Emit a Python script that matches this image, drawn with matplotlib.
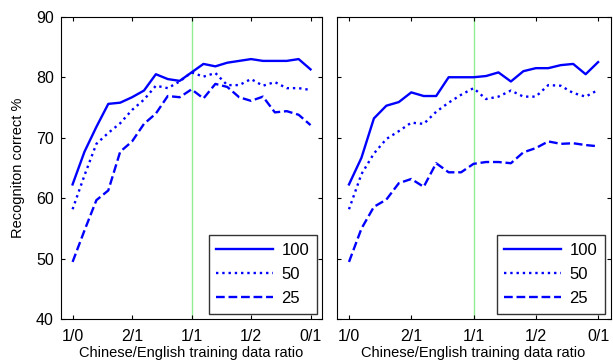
import numpy as np
import matplotlib
matplotlib.use('Agg')
import matplotlib.pyplot as plt

plt.rcParams['font.family'] = ['Liberation Sans', 'DejaVu Sans']

# ----------------------------------------------------------------------
# data
# ----------------------------------------------------------------------
x = np.arange(21) * 0.2  # 1/0 ... 0/1 in steps of 0.2
tick_pos = [0, 1, 2, 3, 4]
tick_labels = ['1/0', '2/1', '1/1', '1/2', '0/1']
series_labels = ['100', '50', '25']

left_100 = [62.3, 67.7, 71.8, 75.6, 75.8, 76.7, 77.8, 80.5, 79.7, 79.4, 80.8,
            82.2, 81.8, 82.4, 82.7, 83.0, 82.7, 82.7, 82.7, 83.0, 81.3]
left_50 = [58.2, 63.8, 69.0, 70.8, 72.4, 74.6, 76.3, 78.6, 78.2, 79.3, 80.8,
           80.1, 80.7, 78.7, 78.7, 79.7, 78.6, 79.2, 78.2, 78.2, 77.9]
left_25 = [49.5, 54.7, 59.7, 61.3, 67.7, 69.4, 72.3, 74.0, 76.9, 76.7, 78.0,
           76.5, 78.9, 78.4, 76.7, 76.1, 76.8, 74.2, 74.4, 73.8, 72.1]

right_100 = [62.3, 66.7, 73.2, 75.3, 75.9, 77.5, 76.9, 76.9, 80.0, 80.0, 80.0,
             80.2, 80.8, 79.3, 81.0, 81.5, 81.5, 82.0, 82.2, 80.5, 82.5]
right_50 = [58.2, 64.0, 67.4, 69.8, 71.1, 72.5, 72.3, 74.3, 75.8, 77.1, 78.2,
            76.4, 76.8, 77.8, 76.8, 76.8, 78.7, 78.6, 77.4, 76.8, 77.9]
right_25 = [49.5, 55.0, 58.6, 59.8, 62.5, 63.2, 61.9, 65.8, 64.3, 64.3, 65.7,
            66.0, 66.0, 65.8, 67.6, 68.3, 69.4, 69.0, 69.1, 68.8, 68.6]

styles = ['-', ':', '--']

fig = plt.figure(figsize=(6.13, 3.63), dpi=100)
ax1 = fig.add_axes([0.099, 0.120, 0.427, 0.834])
ax2 = fig.add_axes([0.549, 0.120, 0.447, 0.834])


def draw_panel(ax, ys, show_ylabel):
    ax.axvline(2, color='#90ee90', lw=1.0, zorder=1)
    for y, ls, lab in zip(ys, styles, series_labels):
        ax.plot(x, y, color='blue', linestyle=ls, lw=1.7, label=lab, zorder=3)
    ax.set_xlim(-0.2, 4.2)
    ax.set_ylim(40, 90)
    ax.set_xticks(tick_pos)
    ax.set_xticklabels(tick_labels)
    ax.set_yticks([40, 50, 60, 70, 80, 90])
    ax.tick_params(direction='in', top=True, right=True, length=3,
                   labelsize=11.5)
    ax.tick_params(axis='x', pad=7)
    ax.tick_params(axis='y', pad=5)
    if not show_ylabel:
        ax.set_yticklabels([])
    else:
        ax.set_ylabel('Recogniton correct %', fontsize=10.5, labelpad=8)
    ax.set_xlabel('Chinese/English training data ratio', fontsize=10.5,
                  labelpad=1)
    leg = ax.legend(loc='lower right', fontsize=12, frameon=True,
                    fancybox=False, handlelength=3.4, borderpad=0.45,
                    labelspacing=0.55, borderaxespad=0.35, handletextpad=0.5)
    leg.get_frame().set_edgecolor('black')
    leg.get_frame().set_linewidth(1.0)


draw_panel(ax1, [left_100, left_50, left_25], True)
draw_panel(ax2, [right_100, right_50, right_25], False)

fig.savefig('out.png', dpi=100)
